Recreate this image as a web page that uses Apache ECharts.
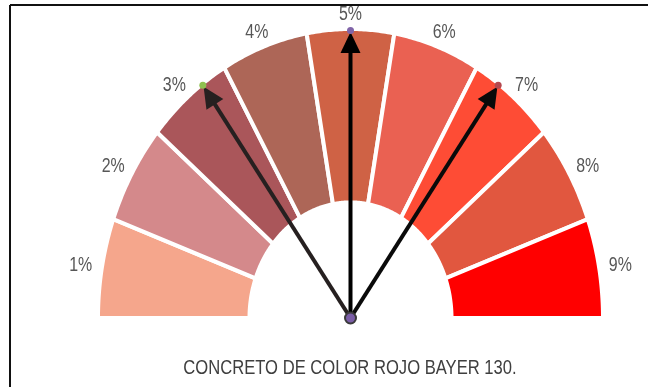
<!DOCTYPE html>
<html>
<head>
<meta charset="utf-8">
<script src="https://cdn.jsdelivr.net/npm/echarts@6/dist/echarts.min.js"></script>
<style>
  html, body { margin: 0; padding: 0; background: #fff; }
  #chart { width: 648px; height: 387px; }
</style>
</head>
<body>
<div id="chart"></div>
<script>
// Gauge bands (left to right) and their labels
const bandLabels = ['1%', '2%', '3%', '4%', '5%', '6%', '7%', '8%', '9%'];
const bandColors = ['#f5a68c', '#d4898b', '#aa565a', '#ad6657', '#cf6245',
                    '#ea6152', '#fe4c35', '#e1573f', '#ff0000'];

// Pointer readings on a 0–10 dial
const pointerValues = [3, 5, 7];
const pointerLineColors = ['#262020', '#000000', '#0a0a0a'];
const pointerTipColors = ['#8fc150', '#8064a8', '#b5484f'];
const dialMax = 10;

const caption = 'CONCRETO DE COLOR ROJO BAYER 130.';

const INNER = 0.4;
const FONT = "'Liberation Sans', Arial, sans-serif";
const toRad = d => d * Math.PI / 180;

function bandItem(params, api) {
  const i = api.value(0);
  const a0 = 180 - i * 20, a1 = a0 - 20;
  const pts = [];
  for (let a = a0; a >= a1 - 1e-9; a -= 0.5) pts.push(api.coord([Math.cos(toRad(a)), Math.sin(toRad(a))]));
  for (let a = a1; a <= a0 + 1e-9; a += 0.5) pts.push(api.coord([INNER * Math.cos(toRad(a)), INNER * Math.sin(toRad(a))]));
  const mid = toRad((a0 + a1) / 2);
  const lp = api.coord([1.085 * Math.cos(mid), 1.05 * Math.sin(mid)]);
  return {
    type: 'group',
    children: [
      { type: 'polygon', shape: { points: pts },
        style: { fill: bandColors[i], stroke: '#ffffff', lineWidth: 4 } },
      { type: 'text', x: lp[0], y: lp[1], scaleX: 0.84, scaleY: 1.05,
        style: { text: bandLabels[i], font: '19px ' + FONT, fill: '#575757',
                 align: 'center', verticalAlign: 'middle' } }
    ]
  };
}

function pointerItem(params, api) {
  const idx = params.dataIndex;
  const v = api.value(0);
  const ang = toRad(180 - v / dialMax * 180);
  const c = api.coord([0, 0]);
  const t = api.coord([0.995 * Math.cos(ang), 0.995 * Math.sin(ang)]);
  const dx = t[0] - c[0], dy = t[1] - c[1];
  const len = Math.sqrt(dx * dx + dy * dy);
  const ux = dx / len, uy = dy / len;
  const px = -uy, py = ux;
  const tipX = t[0] - ux * 1.5, tipY = t[1] - uy * 1.5;
  const headLen = 21, headHalf = 10;
  const bx = tipX - ux * headLen, by = tipY - uy * headLen;
  const col = pointerLineColors[idx];
  return {
    type: 'group',
    children: [
      { type: 'line', shape: { x1: c[0], y1: c[1], x2: bx + ux * 2, y2: by + uy * 2 },
        style: { stroke: col, lineWidth: 4 } },
      { type: 'polygon',
        shape: { points: [[tipX, tipY], [bx + px * headHalf, by + py * headHalf], [bx - px * headHalf, by - py * headHalf]] },
        style: { fill: col } },
      { type: 'circle', shape: { cx: t[0], cy: t[1], r: 3.5 },
        style: { fill: pointerTipColors[idx] } }
    ]
  };
}

const chart = echarts.init(document.getElementById('chart'), null, { renderer: 'canvas' });
chart.setOption({
  animation: false,
  backgroundColor: '#ffffff',
  grid: { left: 98, top: 29, width: 505, height: 289, containLabel: false },
  xAxis: { type: 'value', min: -1, max: 1, show: false },
  yAxis: { type: 'value', min: 0, max: 1, show: false },
  series: [
    { type: 'custom', clip: false, renderItem: bandItem,
      data: bandLabels.map((_, i) => [i]), encode: { x: 0 } },
    { type: 'custom', clip: false, renderItem: pointerItem,
      data: pointerValues.map(v => [v]), encode: { x: 0 } },
    { type: 'scatter', symbolSize: 11, data: [[0, 0]],
      itemStyle: { color: '#7b5ea7', borderColor: '#3a3a3a', borderWidth: 2, opacity: 1 } }
  ],
  graphic: [
    { type: 'line', shape: { x1: 10, y1: 5, x2: 648, y2: 5 }, style: { stroke: '#111', lineWidth: 2 } },
    { type: 'line', shape: { x1: 10, y1: 5, x2: 10, y2: 387 }, style: { stroke: '#111', lineWidth: 2 } },
    { type: 'text', x: 350, y: 368, scaleX: 0.83, scaleY: 1.04,
      style: { text: caption, font: '20px ' + FONT, fill: '#3f3f3f', align: 'center', verticalAlign: 'middle' } }
  ]
});
</script>
</body>
</html>
